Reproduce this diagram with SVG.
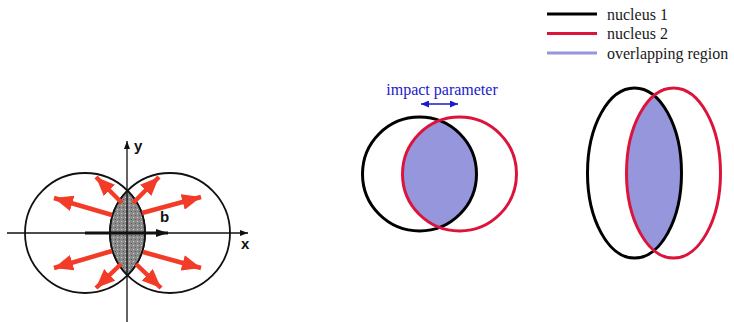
<svg xmlns="http://www.w3.org/2000/svg" width="734" height="322" viewBox="0 0 734 322">
<style>
.t{font-family:"Liberation Serif","Times New Roman",serif;font-size:16px;fill:#1a1a1a}
.ax{stroke:#111;stroke-width:1.3;fill:none}
.ra{stroke:#f23c28;stroke-width:4.5;fill:none;marker-end:url(#rah)}
.n1{stroke:#000;stroke-width:3;fill:none}
.n2{stroke:#dc143c;stroke-width:3;fill:none}
.ov{fill:#9696dc;stroke:none}
.lbl{font-family:"Liberation Sans",Arial,sans-serif;font-size:15px;font-weight:bold;fill:#111}
</style>
<defs>
<marker id="rah" markerUnits="userSpaceOnUse" markerWidth="19" markerHeight="16" refX="19" refY="8" orient="auto" viewBox="0 0 19 16"><path d="M0,0 L19,8 L0,16 Z" fill="#f23c28"/></marker>
<marker id="kah" markerUnits="userSpaceOnUse" markerWidth="8" markerHeight="8" refX="8" refY="4" orient="auto" viewBox="0 0 8 8"><path d="M0,1 L8,4 L0,7 Z" fill="#111"/></marker>
<marker id="bah" markerUnits="userSpaceOnUse" markerWidth="12" markerHeight="8" refX="12" refY="4" orient="auto" viewBox="0 0 12 8"><path d="M0,0 L12,4 L0,8 Z" fill="#111"/></marker>
<marker id="blh" markerUnits="userSpaceOnUse" markerWidth="8" markerHeight="7" refX="8" refY="3.5" orient="auto-start-reverse" viewBox="0 0 8 7"><path d="M0,0 L8,3.5 L0,7 Z" fill="#1a1acc"/></marker>
<pattern id="stip" width="4" height="4" patternUnits="userSpaceOnUse"><rect width="4" height="4" fill="#8a8a8a"/><rect x="1" y="1" width="1" height="1" fill="#d0d0d0"/><rect x="3" y="3" width="1" height="1" fill="#5a5a5a"/></pattern>
</defs>

<g id="left-figure">
<g id="left-circles">
<circle cx="85" cy="233" r="60" fill="none" stroke="#111" stroke-width="1.8"/>
<circle cx="170" cy="233" r="60" fill="none" stroke="#111" stroke-width="1.8"/>
<path d="M127.5 190.6 A60 60 0 0 1 127.5 275.4 A60 60 0 0 1 127.5 190.6 Z" fill="url(#stip)" stroke="#111" stroke-width="1.8"/>
</g>
<g id="left-axes">
<line class="ax" x1="7" y1="233" x2="248" y2="233" marker-end="url(#kah)"/>
<line class="ax" x1="127" y1="322" x2="127" y2="141" marker-end="url(#kah)"/>
<text class="lbl" x="241" y="249">x</text>
<text class="lbl" x="134" y="151">y</text>
<line x1="85" y1="233" x2="168" y2="233" stroke="#111" stroke-width="3" marker-end="url(#bah)"/>
<text class="lbl" x="160" y="222">b</text>
</g>
<g id="red-arrows">
<line class="ra" x1="112" y1="215" x2="54" y2="198"/>
<line class="ra" x1="122" y1="203" x2="96" y2="177"/>
<line class="ra" x1="133" y1="203" x2="159" y2="177"/>
<line class="ra" x1="142" y1="213" x2="201" y2="197"/>
<line class="ra" x1="112" y1="251" x2="54" y2="268"/>
<line class="ra" x1="121" y1="264" x2="96" y2="288"/>
<line class="ra" x1="136" y1="264" x2="161" y2="288"/>
<line class="ra" x1="143" y1="252" x2="201" y2="268"/>
</g>
</g>

<g id="middle-figure">
<path class="ov" d="M439.5 120.6 A57 57 0 0 1 439.5 227.4 A57 57 0 0 1 439.5 120.6 Z"/>
<circle id="m-nucleus1" class="n1" cx="419.5" cy="174" r="57"/>
<circle id="m-nucleus2" class="n2" cx="459.5" cy="174" r="57"/>
<text x="442" y="95" text-anchor="middle" font-family="Liberation Serif, Times New Roman, serif" font-size="16" fill="#1a1acc">impact parameter</text>
<line x1="421" y1="104" x2="458" y2="104" stroke="#1a1acc" stroke-width="1.6" marker-start="url(#blh)" marker-end="url(#blh)"/>
</g>

<g id="right-figure">
<path class="ov" d="M654 95.7 A47 85 0 0 1 654 250.3 A47 85 0 0 1 654 95.7 Z"/>
<ellipse id="r-nucleus1" class="n1" cx="634.5" cy="173" rx="47" ry="85"/>
<ellipse id="r-nucleus2" class="n2" cx="673.5" cy="173" rx="47" ry="85"/>
</g>

<g id="legend">
<line x1="547" y1="14" x2="597" y2="14" stroke="#000" stroke-width="3"/>
<line x1="547" y1="33.5" x2="597" y2="33.5" stroke="#dc143c" stroke-width="3"/>
<line x1="547" y1="53" x2="597" y2="53" stroke="#9696dc" stroke-width="3"/>
<text class="t" x="607" y="19.5">nucleus 1</text>
<text class="t" x="607" y="39">nucleus 2</text>
<text class="t" x="607" y="58.5">overlapping region</text>
</g>
</svg>
